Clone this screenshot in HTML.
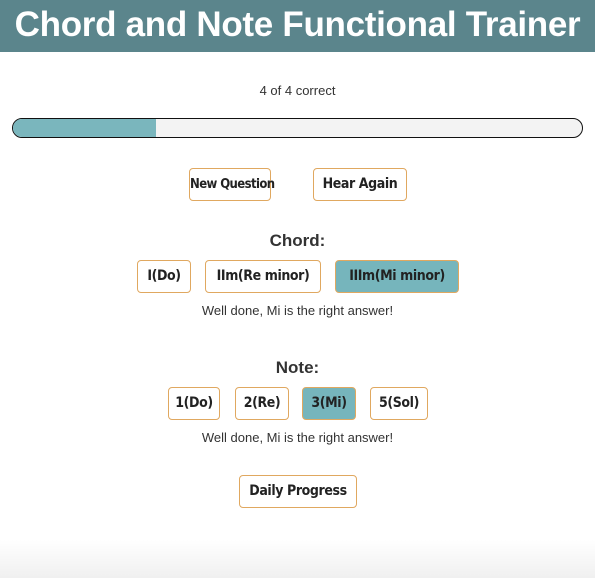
<!DOCTYPE html>
<html><head><style>
body{margin:0;width:595px;height:578px;position:relative;overflow:hidden;font-family:"Liberation Sans",sans-serif;background:linear-gradient(#fff 0,#fff 540px,#f0f0f0 578px);}
.hd{position:absolute;left:0;top:0;width:595px;height:52px;background:#5b858c;color:#fff;font-weight:bold;font-size:35px;text-align:center;line-height:50px;white-space:nowrap;letter-spacing:-0.3px}
.t{position:absolute;left:0;width:595px;text-align:center;color:#333;white-space:nowrap}
.b{position:absolute;box-sizing:border-box;border:1px solid #e0a860;border-radius:4px;background:#fff;color:#222;font-family:"DejaVu Sans Condensed","DejaVu Sans",sans-serif;font-weight:bold;font-size:14px;text-align:center;white-space:nowrap;letter-spacing:-0.4px}
.on{background:#76b5bc}
.bar{position:absolute;left:12px;top:118px;width:571px;height:20px;box-sizing:border-box;border:1.5px solid #111;border-radius:10px;background:#f3f3f3;overflow:hidden}
.fill{width:143px;height:100%;background:#7ab6bd}
</style></head><body>
<div class="hd">Chord and Note Functional Trainer</div>
<div class="t" style="top:83px;font-size:13px">4 of 4 correct</div>
<div class="bar"><div class="fill"></div></div>
<div class="b" style="left:189px;top:168px;width:82px;height:33px;line-height:31px;font-size:13px;letter-spacing:-0.6px">New Question</div>
<div class="b" style="left:313px;top:168px;width:94px;height:33px;line-height:31px">Hear Again</div>
<div class="t" style="top:231px;font-size:17px;font-weight:bold;color:#333">Chord:</div>
<div class="b" style="left:137px;top:260px;width:54px;height:33px;line-height:31px">I(Do)</div>
<div class="b" style="left:205px;top:260px;width:116px;height:33px;line-height:31px">IIm(Re minor)</div>
<div class="b on" style="left:335px;top:260px;width:124px;height:33px;line-height:31px">IIIm(Mi minor)</div>
<div class="t" style="top:303px;font-size:13px">Well done, Mi is the right answer!</div>
<div class="t" style="top:358px;font-size:17px;font-weight:bold;color:#333">Note:</div>
<div class="b" style="left:168px;top:387px;width:52px;height:33px;line-height:31px">1(Do)</div>
<div class="b" style="left:235px;top:387px;width:54px;height:33px;line-height:31px">2(Re)</div>
<div class="b on" style="left:302px;top:387px;width:54px;height:33px;line-height:31px">3(Mi)</div>
<div class="b" style="left:370px;top:387px;width:58px;height:33px;line-height:31px">5(Sol)</div>
<div class="t" style="top:430px;font-size:13px">Well done, Mi is the right answer!</div>
<div class="b" style="left:239px;top:475px;width:118px;height:33px;line-height:31px">Daily Progress</div>
</body></html>
